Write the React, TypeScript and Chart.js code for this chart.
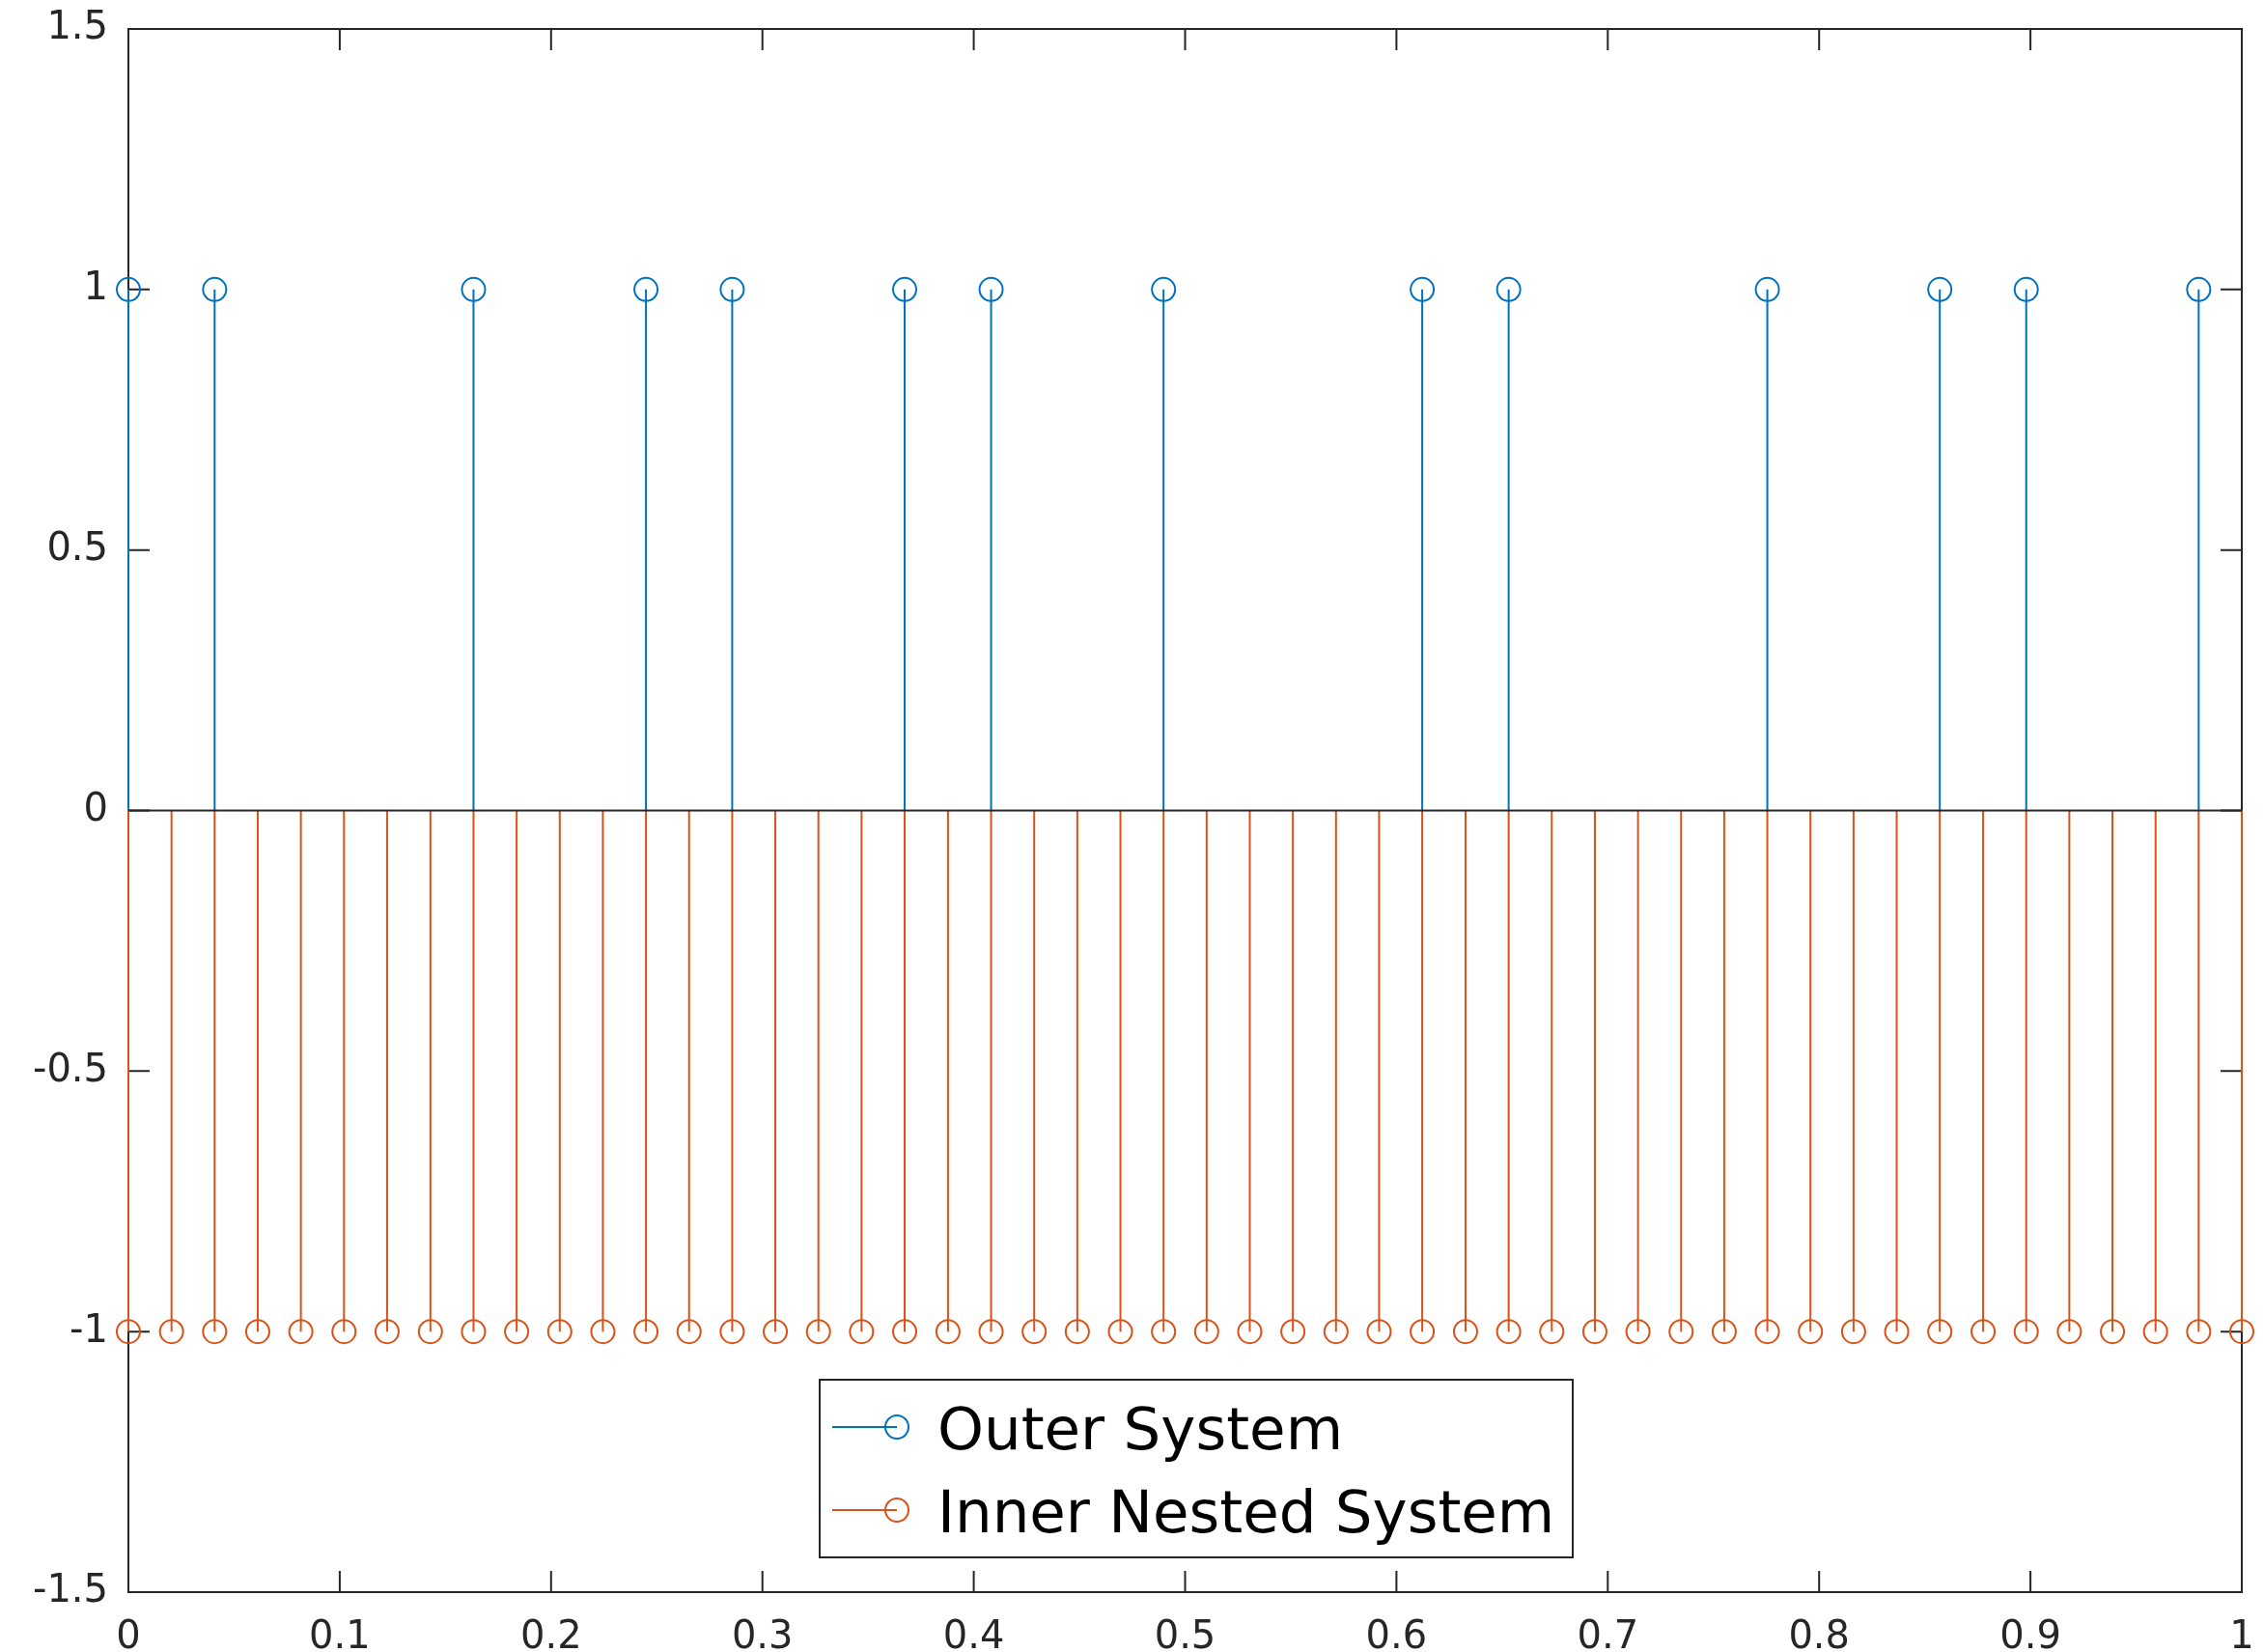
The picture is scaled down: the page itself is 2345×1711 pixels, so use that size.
import React, { useEffect, useRef } from "react";
import { Chart, registerables } from "chart.js";

Chart.register(...registerables);

// Sample positions (time axis)
const sampleX: number[] = [
  0, 0.0204, 0.0408, 0.0612, 0.0816, 0.1020, 0.1224, 0.1429, 0.1633, 0.1837,
  0.2041, 0.2245, 0.2449, 0.2653, 0.2857, 0.3061, 0.3265, 0.3469, 0.3673, 0.3878,
  0.4082, 0.4286, 0.4490, 0.4694, 0.4898, 0.5102, 0.5306, 0.5510, 0.5714, 0.5918,
  0.6122, 0.6327, 0.6531, 0.6735, 0.6939, 0.7143, 0.7347, 0.7551, 0.7755, 0.7959,
  0.8163, 0.8367, 0.8571, 0.8776, 0.8980, 0.9184, 0.9388, 0.9592, 0.9796, 1,
];

// Outer system samples
const outerX: number[] = [
  0, 0.0408, 0.1633, 0.2449, 0.2857, 0.3673, 0.4082, 0.4898, 0.6122, 0.6531,
  0.7755, 0.8571, 0.8980, 0.9796,
];
const outerY: number[] = [1, 1, 1, 1, 1, 1, 1, 1, 1, 1, 1, 1, 1, 1];

// Inner nested system samples (one per sample position)
const innerY: number[] = [
  -1, -1, -1, -1, -1, -1, -1, -1, -1, -1,
  -1, -1, -1, -1, -1, -1, -1, -1, -1, -1,
  -1, -1, -1, -1, -1, -1, -1, -1, -1, -1,
  -1, -1, -1, -1, -1, -1, -1, -1, -1, -1,
  -1, -1, -1, -1, -1, -1, -1, -1, -1, -1,
];

const xTicks: number[] = [0, 0.1, 0.2, 0.3, 0.4, 0.5, 0.6, 0.7, 0.8, 0.9, 1];
const yTicks: number[] = [-1.5, -1, -0.5, 0, 0.5, 1, 1.5];
const seriesNames: string[] = ["Outer System", "Inner Nested System"];

const BLUE = "#0072BD";
const ORANGE = "#D95319";
const AXIS = "#262626";
const FONT = "'DejaVu Sans', sans-serif";

function stemData(xs: number[], ys: number[]) {
  const out: { x: number; y: number | null }[] = [];
  xs.forEach((x, i) => {
    out.push({ x, y: 0 });
    out.push({ x, y: ys[i] });
    out.push({ x, y: null });
  });
  return out;
}

function pointData(xs: number[], ys: number[]) {
  return xs.map((x, i) => ({ x, y: ys[i] }));
}

const axesPlugin = {
  id: "matlabAxes",
  beforeDatasetsDraw(chart: any) {
    const { ctx, chartArea, scales } = chart;
    const { left, right, top, bottom } = chartArea;
    const tl = 22;
    ctx.save();
    ctx.strokeStyle = AXIS;
    ctx.lineWidth = 2;
    ctx.beginPath();
    ctx.rect(left, top, right - left, bottom - top);
    ctx.stroke();
    ctx.beginPath();
    xTicks.forEach((v) => {
      const px = scales.x.getPixelForValue(v);
      ctx.moveTo(px, bottom);
      ctx.lineTo(px, bottom - tl);
      ctx.moveTo(px, top);
      ctx.lineTo(px, top + tl);
    });
    yTicks.forEach((v) => {
      const py = scales.y.getPixelForValue(v);
      ctx.moveTo(left, py);
      ctx.lineTo(left + tl, py);
      ctx.moveTo(right, py);
      ctx.lineTo(right - tl, py);
    });
    ctx.stroke();
    ctx.restore();
  },
  afterDatasetsDraw(chart: any) {
    const { ctx } = chart;
    const box = { x: 849, y: 1429, w: 780, h: 184 };
    const rows = [
      { color: BLUE, cy: 1478, base: 1501, label: seriesNames[0] },
      { color: ORANGE, cy: 1564, base: 1587, label: seriesNames[1] },
    ];
    ctx.save();
    ctx.fillStyle = "#ffffff";
    ctx.fillRect(box.x, box.y, box.w, box.h);
    ctx.strokeStyle = AXIS;
    ctx.lineWidth = 2;
    ctx.strokeRect(box.x, box.y, box.w, box.h);
    rows.forEach((r) => {
      ctx.strokeStyle = r.color;
      ctx.lineWidth = 2;
      ctx.beginPath();
      ctx.moveTo(862, r.cy);
      ctx.lineTo(929, r.cy);
      ctx.stroke();
      ctx.beginPath();
      ctx.arc(929, r.cy, 12, 0, Math.PI * 2);
      ctx.stroke();
      ctx.fillStyle = "#000000";
      ctx.font = `61px ${FONT}`;
      ctx.textAlign = "left";
      ctx.textBaseline = "alphabetic";
      ctx.fillText(r.label, 971, r.base);
    });
    ctx.restore();
  },
};

export default function App() {
  const canvasRef = useRef<HTMLCanvasElement | null>(null);

  useEffect(() => {
    document.body.style.margin = "0";
    document.body.style.overflow = "hidden";
    const canvas = canvasRef.current;
    if (!canvas) return;

    const chart = new Chart(canvas, {
      type: "scatter",
      data: {
        datasets: [
          {
            label: "baseline",
            data: [
              { x: 0, y: 0 },
              { x: 1, y: 0 },
            ],
            showLine: true,
            borderColor: AXIS,
            borderWidth: 2,
            pointRadius: 0,
            order: 0,
          } as any,
          {
            label: seriesNames[1] + " markers",
            data: pointData(sampleX, innerY),
            showLine: false,
            pointStyle: "circle",
            pointRadius: 12,
            pointBorderWidth: 2,
            pointBorderColor: ORANGE,
            pointBackgroundColor: "rgba(0,0,0,0)",
            borderColor: ORANGE,
            clip: false,
            order: 1,
          } as any,
          {
            label: seriesNames[1] + " stems",
            data: stemData(sampleX, innerY),
            showLine: true,
            spanGaps: false,
            borderColor: ORANGE,
            borderWidth: 2,
            pointRadius: 0,
            clip: false,
            order: 2,
          } as any,
          {
            label: seriesNames[0] + " markers",
            data: pointData(outerX, outerY),
            showLine: false,
            pointStyle: "circle",
            pointRadius: 12,
            pointBorderWidth: 2,
            pointBorderColor: BLUE,
            pointBackgroundColor: "rgba(0,0,0,0)",
            borderColor: BLUE,
            clip: false,
            order: 3,
          } as any,
          {
            label: seriesNames[0] + " stems",
            data: stemData(outerX, outerY),
            showLine: true,
            spanGaps: false,
            borderColor: BLUE,
            borderWidth: 2,
            pointRadius: 0,
            clip: false,
            order: 4,
          } as any,
        ],
      },
      options: {
        animation: false,
        responsive: false,
        devicePixelRatio: 1,
        events: [],
        layout: { padding: { top: 30, right: 23, left: 0, bottom: 0 } },
        plugins: {
          legend: { display: false },
          tooltip: { enabled: false },
          title: { display: false },
        },
        scales: {
          x: {
            type: "linear",
            min: 0,
            max: 1,
            afterFit: (s: any) => {
              s.height = 62;
              s.paddingLeft = 0;
              s.paddingRight = 0;
            },
            afterBuildTicks: (s: any) => {
              s.ticks = xTicks.map((v) => ({ value: v }));
            },
            ticks: {
              color: AXIS,
              font: { family: FONT, size: 40 },
              padding: 24,
              maxRotation: 0,
              autoSkip: false,
              callback: (v: any) => String(Number(Number(v).toFixed(2))),
            },
            grid: { display: false, drawTicks: false },
            border: { display: false },
          },
          y: {
            type: "linear",
            min: -1.5,
            max: 1.5,
            afterFit: (s: any) => {
              s.width = 133;
              s.paddingTop = 0;
              s.paddingBottom = 0;
            },
            afterBuildTicks: (s: any) => {
              s.ticks = yTicks.map((v) => ({ value: v }));
            },
            ticks: {
              color: AXIS,
              font: { family: FONT, size: 40 },
              padding: 21,
              autoSkip: false,
              callback: (v: any) => String(Number(Number(v).toFixed(2))),
            },
            grid: { display: false, drawTicks: false },
            border: { display: false },
          },
        },
      } as any,
      plugins: [axesPlugin],
    });

    return () => {
      chart.destroy();
    };
  }, []);

  return (
    <canvas
      ref={canvasRef}
      width={2345}
      height={1711}
      style={{ display: "block", width: "2345px", height: "1711px" }}
    />
  );
}
